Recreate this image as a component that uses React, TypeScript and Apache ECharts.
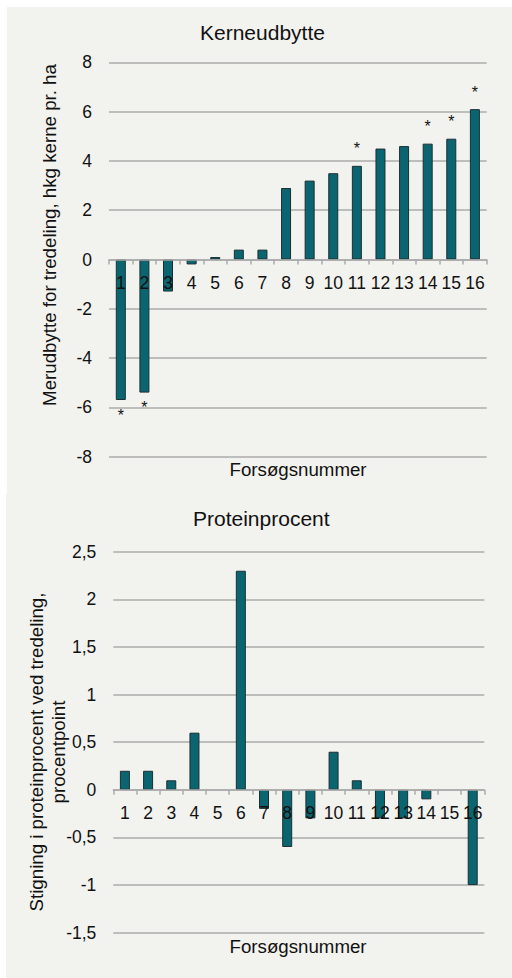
import React, { useEffect, useRef } from "react";
import * as echarts from "echarts";

const categories = ["1","2","3","4","5","6","7","8","9","10","11","12","13","14","15","16"];
const yieldValues = [-5.7, -5.4, -1.3, -0.2, 0.1, 0.4, 0.4, 2.9, 3.2, 3.5, 3.8, 4.5, 4.6, 4.7, 4.9, 6.1];
const significant = ["1", "2", "11", "14", "15", "16"];
const proteinValues = [0.2, 0.2, 0.1, 0.6, 0, 2.3, -0.2, -0.6, -0.3, 0.4, 0.1, -0.3, -0.3, -0.1, 0, -1.0];

const yieldRange = [-8, 8, 2];
const proteinRange = [-1.5, 2.5, 0.5];

const titleTop = "Kerneudbytte";
const titleBottom = "Proteinprocent";
const xName = "Forsøgsnummer";
const yNameTop = "Merudbytte for tredeling, hkg kerne pr. ha";
const yNameBottom1 = "Stigning i proteinprocent ved tredeling,";
const yNameBottom2 = "procentpoint";

const FONT = "'Liberation Sans', Arial, sans-serif";
const BAR = "#0a6570";
const BORDER = "#1b2f33";
const GRID = "#ababab";

const grids = [
  { left: 109, top: 62.3, width: 377.7, height: 394.4 },
  { left: 113.3, top: 551.7, width: 371, height: 381 },
];

export default function App() {
  const ref = useRef<HTMLDivElement>(null);
  useEffect(() => {
    if (!ref.current) return;
    const chart = echarts.init(ref.current, null, { renderer: "svg" });
    const fmt = (v: number) => String(v).replace(".", ",");
    const xAxisBase = (gridIndex: number, range: number[]) => ({
      type: "category" as const,
      gridIndex,
      data: categories,
      position: "bottom" as const,
      z: 5,
      // place the category axis on the value 0 line
      offset: -grids[gridIndex].height * (0 - range[0]) / (range[1] - range[0]),
      axisLine: { show: true, onZero: false, lineStyle: { color: GRID, width: 1.5 } },
      axisTick: { show: true, length: 5, lineStyle: { color: GRID, width: 1.5 } },
      axisLabel: { color: "#111", fontSize: 17.5, fontFamily: FONT, margin: 14, interval: 0 },
      splitLine: { show: false },
    });
    const yAxisBase = (gridIndex: number, range: number[]) => ({
      type: "value" as const,
      gridIndex,
      min: range[0],
      max: range[1],
      interval: range[2],
      z: 0,
      axisLine: { show: false },
      axisTick: { show: false },
      axisLabel: { color: "#111", fontSize: 17.5, fontFamily: FONT, margin: 17, formatter: fmt },
      splitLine: { show: true, lineStyle: { color: GRID, width: 1.5 } },
    });
    const textStyle = (fontSize: number) => ({ fill: "#111", fontSize, fontFamily: FONT });
    const barItem = (v: number) => ({
      color: BAR,
      borderColor: BORDER,
      borderWidth: v === 0 ? 0 : 1,
    });
    chart.setOption({
      animation: false,
      backgroundColor: "transparent",
      grid: grids,
      xAxis: [xAxisBase(0, yieldRange), xAxisBase(1, proteinRange)],
      yAxis: [yAxisBase(0, yieldRange), yAxisBase(1, proteinRange)],
      series: [
        {
          type: "bar",
          xAxisIndex: 0,
          yAxisIndex: 0,
          barWidth: 10,
          z: 2,
          data: yieldValues.map((v, i) => ({
            value: v,
            itemStyle: barItem(v),
            label: {
              show: significant.includes(categories[i]),
              position: v < 0 ? "bottom" : "top",
              distance: v < 0 ? 7 : 9,
              formatter: "*",
              fontSize: 16,
              fontFamily: FONT,
              color: "#111",
            },
          })),
        },
        {
          type: "bar",
          xAxisIndex: 1,
          yAxisIndex: 1,
          barWidth: 10,
          z: 2,
          data: proteinValues.map((v) => ({ value: v, itemStyle: barItem(v) })),
        },
      ],
      graphic: [
        { type: "text", left: 262 - 62, top: 22, style: { ...textStyle(21), text: titleTop } },
        { type: "text", left: 261 - 68, top: 508, style: { ...textStyle(21), text: titleBottom } },
        { type: "text", left: 298 - 68.5, top: 460, style: { ...textStyle(18.7), text: xName } },
        { type: "text", left: 298 - 68.5, top: 937, style: { ...textStyle(18.7), text: xName } },
        {
          type: "text",
          x: 49,
          y: 235,
          rotation: Math.PI / 2,
          style: { ...textStyle(18.7), text: yNameTop, align: "center", verticalAlign: "middle" },
        },
        {
          type: "text",
          x: 36,
          y: 752,
          rotation: Math.PI / 2,
          style: { ...textStyle(18.7), text: yNameBottom1, align: "center", verticalAlign: "middle" },
        },
        {
          type: "text",
          x: 58,
          y: 752,
          rotation: Math.PI / 2,
          style: { ...textStyle(18.7), text: yNameBottom2, align: "center", verticalAlign: "middle" },
        },
      ],
    });
    return () => chart.dispose();
  }, []);
  return (
    <div style={{ position: "fixed", left: 0, top: 0, width: 512, height: 978, background: "#ffffff" }}>
      <div style={{ position: "absolute", left: 7, top: 7, width: 505, height: 487, background: "#f2f2ee" }} />
      <div style={{ position: "absolute", left: 6, top: 494, width: 506, height: 484, background: "#f2f2ee" }} />
      <div ref={ref} style={{ position: "absolute", left: 0, top: 0, width: 512, height: 978 }} />
    </div>
  );
}
